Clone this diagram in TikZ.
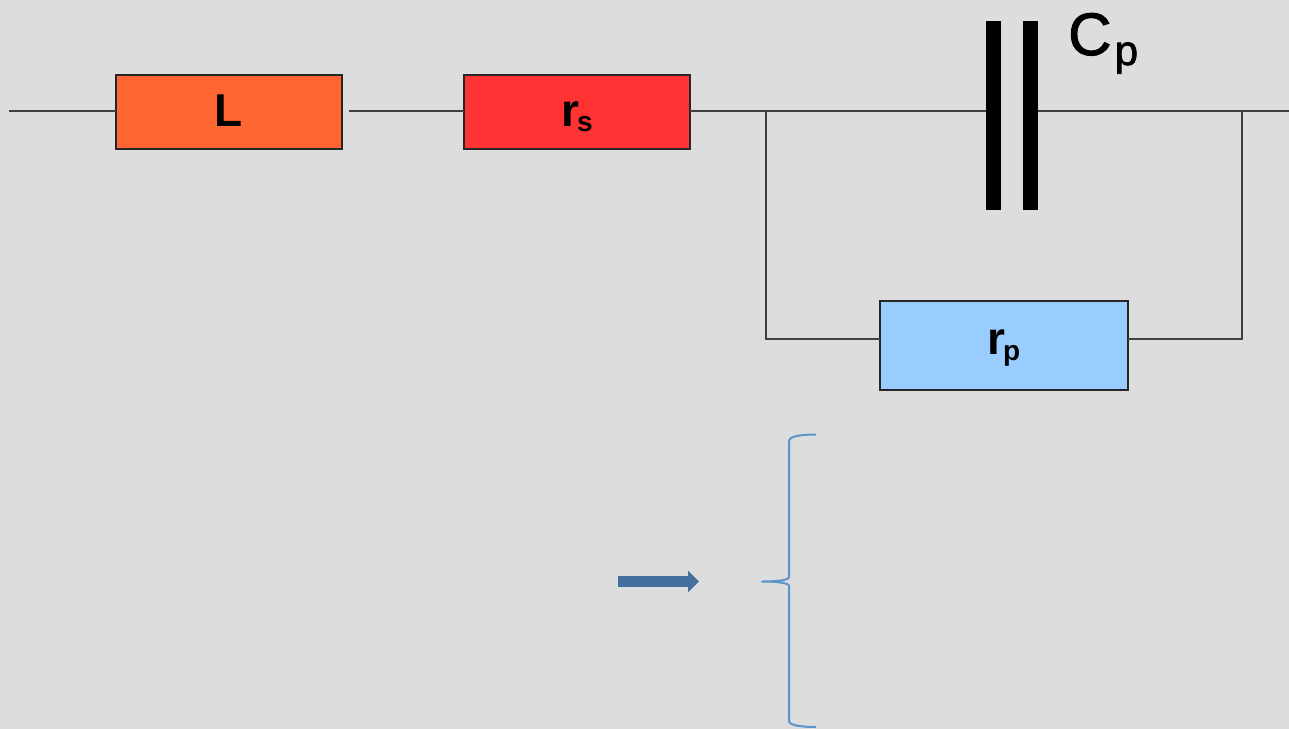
\documentclass[tikz,border=0pt]{standalone}
\usepackage{fontspec}
\setmainfont{Liberation Sans}
\newfontfamily\medfont[FakeBold=1.6]{Liberation Sans}
\usetikzlibrary{arrows.meta}
\definecolor{bgc}{HTML}{DDDDDD}
\definecolor{wirec}{HTML}{404040}
\definecolor{lc}{HTML}{FF6633}
\definecolor{rsc}{HTML}{FF3333}
\definecolor{rpc}{HTML}{99CCFF}
\definecolor{arrc}{HTML}{44709D}
\definecolor{brc}{HTML}{5B93CB}
\tikzset{
  wire/.style={draw=wirec,line width=2pt,line join=miter},
  compbox/.style={draw=black!85,line width=1.8pt,inner sep=0pt,outer sep=0pt,font=\fontsize{46}{46}\selectfont\bfseries,text=black},
  plate/.style={fill=black,draw=none,inner sep=0pt,outer sep=0pt,minimum width=15pt,minimum height=189pt},
  subb/.style={font=\fontsize{28}{28}\selectfont\bfseries}
}
\begin{document}
\begin{tikzpicture}[x=1pt,y=-1pt]
\useasboundingbox (0,0) rectangle (1289,728);
\fill[bgc,overlay] (-5,-5) rectangle (1294,733);
\node[compbox,fill=lc,minimum width=226pt,minimum height=74pt] (L) at (229,112) {};
\node[compbox,fill=rsc,minimum width=226pt,minimum height=74pt] (rs) at (577,112) {};
\node[compbox,fill=rpc,minimum width=248pt,minimum height=89pt] (rp) at (1004,345.5) {};
\node[plate] (p1) at (993,115.5) {};
\node[plate] (p2) at (1030.5,115.5) {};
\coordinate (in) at (9,111);
\coordinate (gapL) at (349,111);
\coordinate (jl) at (766,111);
\coordinate (jr) at (1242,111);
\coordinate (out) at (1289,111);
\coordinate (bl) at (766,338.5);
\coordinate (br) at (1242,338.5);
\coordinate (rsR) at (690,111);
\coordinate (rsL) at (464,111);
\coordinate (LL) at (116,111);
\coordinate (p1L) at (986,111);
\coordinate (p2R) at (1038,111);
\coordinate (rpL) at (880,338.5);
\coordinate (rpR) at (1128,338.5);
\draw[wire] (in) -- (LL);
\draw[wire] (gapL) -- (rsL);
\draw[wire] (rsR) -- (p1L);
\draw[wire] (p2R) -- (out);
\draw[wire] (jl) -- (bl) -- (rpL);
\draw[wire] (jr) -- (br) -- (rpR);
\node[inner sep=0pt,anchor=base,font=\fontsize{46}{46}\selectfont\bfseries] (Lt) at (229,126) {L};
\node[inner sep=0pt,anchor=base west,font=\fontsize{46}{46}\selectfont\bfseries] (rst) at (561,126) {r};
\node[inner sep=0pt,anchor=base west,subb] (rss) at (577,131) {s};
\node[inner sep=0pt,anchor=base west,font=\fontsize{46}{46}\selectfont\bfseries] (rpt) at (987,354.5) {r};
\node[inner sep=0pt,anchor=base west,subb] (rps) at (1003,360.5) {p};
\node[inner sep=0pt,anchor=base west,font=\fontsize{60}{60}\selectfont\medfont] (Ct) at (1068,55) {C};
\node[inner sep=0pt,anchor=base west,font=\fontsize{42}{42}\selectfont\medfont] (Cs) at (1114.5,65) {p};
\coordinate (a1) at (617.5,581.5);
\coordinate (a2) at (699,581.5);
\draw[arrc,line width=10.5pt,-{Triangle[length=11pt,width=21pt]}] (a1) -- (a2);
\coordinate (b0) at (816,434.5);
\coordinate (b1) at (789,441);
\coordinate (b2) at (789,577);
\coordinate (b3) at (762,581.5);
\coordinate (b4) at (789,586);
\coordinate (b5) at (789,721);
\coordinate (b6) at (816,727);
\draw[brc,line width=2pt,line join=round]
  (b0) .. controls (805,434.5) and (789,435.5) .. (b1) -- (b2)
  .. controls (789,580) and (778,581.5) .. (b3)
  .. controls (778,581.5) and (789,583) .. (b4) -- (b5)
  .. controls (789,726) and (805,727) .. (b6);
\end{tikzpicture}
\end{document}
